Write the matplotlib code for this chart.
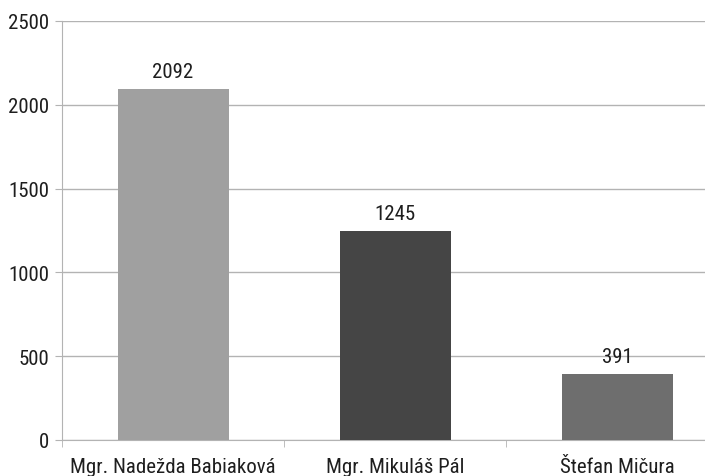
import matplotlib.pyplot as plt
import numpy as np

# data
names = ["Mgr. Nadežda Babiaková", "Mgr. Mikuláš Pál", "Štefan Mičura"]
votes = [2092, 1245, 391]
colors = ["#a0a0a0", "#454545", "#6e6e6e"]

plt.rcParams['font.family'] = ['Roboto Condensed', 'Liberation Sans', 'DejaVu Sans']

fig = plt.figure(figsize=(7.05, 4.77), dpi=100)
ax = fig.add_axes([62 / 705, 36 / 477, 666 / 705, 419 / 477])

x = np.arange(len(names))
bars = ax.bar(x, votes, width=0.5, color=colors, zorder=3)

# value labels above bars
for b, v in zip(bars, votes):
    ax.annotate(str(v), (b.get_x() + b.get_width() / 2, v), xytext=(0, 6),
                textcoords='offset points', ha='center', va='bottom',
                fontsize=15, color='#1e1e1e')

ax.set_xlim(-0.5, len(names) - 0.5)
ax.set_ylim(0, 2500)
ax.set_yticks(range(0, 2501, 500))
ax.yaxis.grid(True, color='#b3b3b3', linewidth=1, zorder=0)

ax.set_xticks(x)
ax.set_xticklabels(names, fontsize=15, color='#1e1e1e')
ax.tick_params(axis='x', length=0, pad=12)
ax.set_xticks(np.arange(-0.5, len(names), 1), minor=True)
ax.tick_params(axis='x', which='minor', length=5, color='#b3b3b3')
ax.tick_params(axis='y', labelsize=15, labelcolor='#1e1e1e', length=5,
               color='#b3b3b3', pad=4)

for s in ['top', 'right']:
    ax.spines[s].set_visible(False)
ax.spines['left'].set_color('#b3b3b3')
ax.spines['bottom'].set_color('#b3b3b3')

fig.savefig('out.png', dpi=100)
